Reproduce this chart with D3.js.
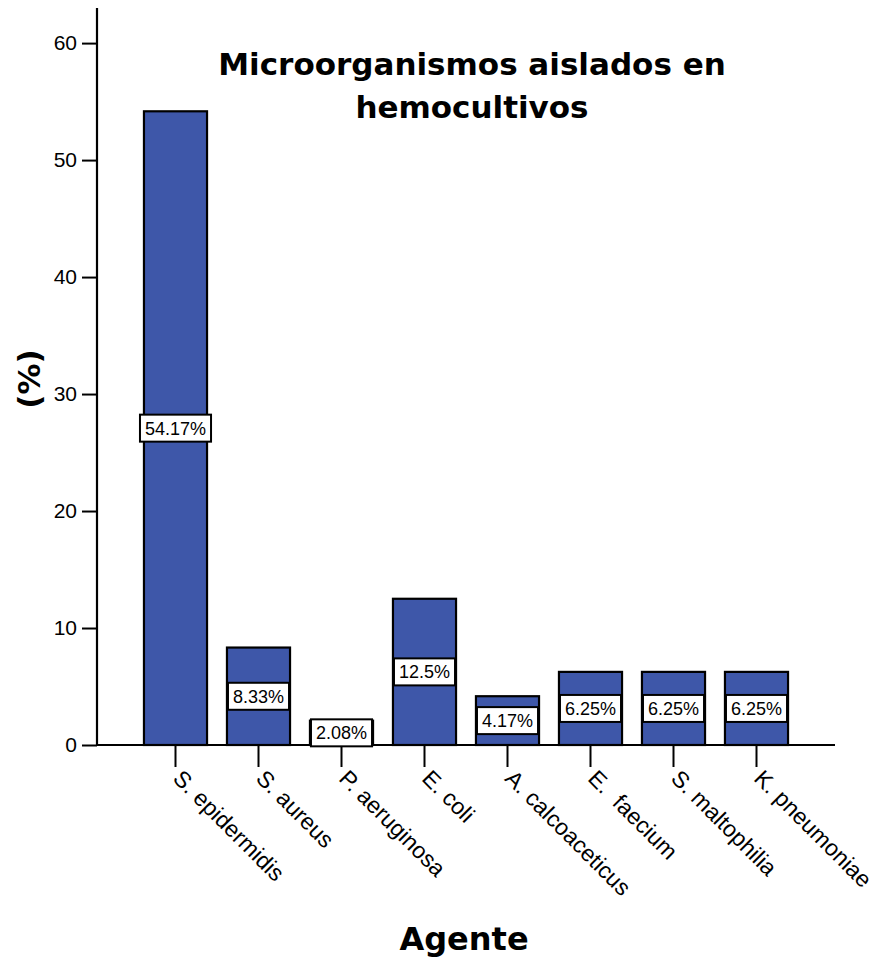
<!DOCTYPE html>
<html>
<head>
<meta charset="utf-8">
<script src="https://cdn.jsdelivr.net/npm/d3@7"></script>
<style>
  body { margin: 0; background: #fff; }
  svg { display: block; }
</style>
</head>
<body>
<svg id="chart" width="878" height="961"></svg>
<script>
// Bloodstream isolates, share of positive cultures
const categories = ["S. epidermidis", "S. aureus", "P. aeruginosa", "E. coli",
                    "A. calcoaceticus", "E.  faecium", "S. maltophilia", "K. pneumoniae"];
const values = [54.17, 8.33, 2.08, 12.5, 4.17, 6.25, 6.25, 6.25];
const valueLabels = ["54.17%", "8.33%", "2.08%", "12.5%", "4.17%", "6.25%", "6.25%", "6.25%"];
const yTicks = [0, 10, 20, 30, 40, 50, 60];
const titleLines = ["Microorganismos aislados en", "hemocultivos"];

const svg = d3.select("#chart");
const axisX0 = 97, axisX1 = 835, baseY = 745, topY = 8;
const sans = "Liberation Sans, Arial, sans-serif";
const heavy = "DejaVu Sans, sans-serif";

const x = d3.scaleBand().domain(categories).range([134, 798]).paddingInner(0.24).paddingOuter(0.12);
const y = d3.scaleLinear().domain([0, 63]).range([baseY, topY]);

const fill = "#3E57A9";

// bars
svg.append("g").selectAll("rect").data(values).join("rect")
  .attr("x", (d, i) => x(categories[i]))
  .attr("y", d => y(d))
  .attr("width", x.bandwidth())
  .attr("height", d => y(0) - y(d))
  .attr("fill", fill)
  .attr("stroke", "#000")
  .attr("stroke-width", 2.2);

// y axis
const yAxis = d3.axisLeft(y).tickValues(yTicks).tickSize(15).tickPadding(5).tickFormat(d3.format("d"));
const gy = svg.append("g").attr("transform", `translate(${axisX0},0)`).call(yAxis);
gy.select(".domain").remove();
gy.selectAll(".tick line").attr("stroke", "#000").attr("stroke-width", 2);
gy.selectAll(".tick text").attr("font-family", sans)
  .attr("font-size", 21).attr("fill", "#000");
svg.append("line").attr("x1", axisX0).attr("x2", axisX0).attr("y1", topY).attr("y2", baseY + 1)
  .attr("stroke", "#000").attr("stroke-width", 2.2);

// x axis, labels rotated and hanging from the tick ends
const xAxis = d3.axisBottom(x).tickSize(22).tickPadding(0);
const gx = svg.append("g").attr("transform", `translate(0,${baseY})`).call(xAxis);
gx.select(".domain").remove();
gx.selectAll(".tick line").attr("stroke", "#000").attr("stroke-width", 2);
gx.selectAll(".tick text")
  .attr("font-family", sans)
  .attr("font-size", 23).attr("fill", "#000")
  .style("white-space", "pre")
  .attr("text-anchor", "start")
  .attr("x", 0).attr("y", 0).attr("dy", "0.72em")
  .attr("transform", "translate(8,23) rotate(45)");
svg.append("line").attr("x1", axisX0).attr("x2", axisX1).attr("y1", baseY).attr("y2", baseY)
  .attr("stroke", "#000").attr("stroke-width", 2.2);

// value labels in boxes at bar mid-height
const lab = svg.append("g").selectAll("g").data(values).join("g")
  .attr("transform", (d, i) => `translate(${x(categories[i]) + x.bandwidth() / 2},${y(d / 2)})`);
lab.append("text")
  .attr("text-anchor", "middle").attr("dy", "0.36em")
  .attr("font-family", sans).attr("font-size", 18)
  .text((d, i) => valueLabels[i]);
lab.each(function() {
  const g = d3.select(this);
  const b = g.select("text").node().getBBox();
  g.insert("rect", "text")
    .attr("x", b.x - 5).attr("y", -13.5)
    .attr("width", b.width + 10).attr("height", 27)
    .attr("fill", "#fff").attr("stroke", "#000").attr("stroke-width", 2);
});

// title
svg.append("text").attr("x", 472).attr("y", 75)
  .attr("text-anchor", "middle")
  .attr("font-family", heavy).attr("font-weight", "bold").attr("font-size", 31)
  .selectAll("tspan").data(titleLines).join("tspan")
  .attr("x", 472).attr("dy", (d, i) => i === 0 ? 0 : 43).text(d => d);

// axis titles
svg.append("text").attr("transform", "translate(40,379) rotate(-90)")
  .attr("text-anchor", "middle")
  .attr("font-family", heavy).attr("font-weight", "bold").attr("font-size", 31)
  .text("(%)");
svg.append("text").attr("x", 464).attr("y", 950)
  .attr("text-anchor", "middle")
  .attr("font-family", heavy).attr("font-weight", "bold").attr("font-size", 32)
  .text("Agente");
</script>
</body>
</html>
